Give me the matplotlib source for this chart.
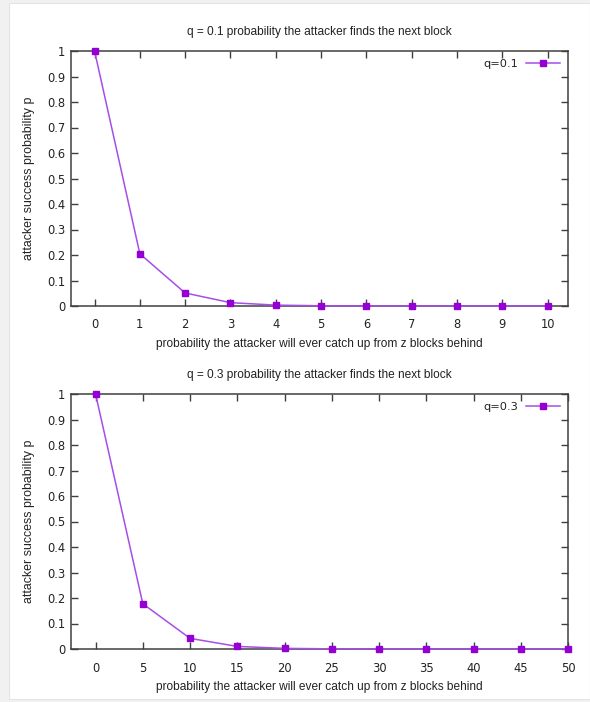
import matplotlib
matplotlib.use("Agg")
import matplotlib.pyplot as plt
from matplotlib.patches import Rectangle

# Data (attacker success probability, Bitcoin whitepaper)
z_q01 = [0, 1, 2, 3, 4, 5, 6, 7, 8, 9, 10]
p_q01 = [1.0, 0.2045873, 0.0509779, 0.0131722, 0.0034552, 0.0009137,
         0.0002428, 0.0000647, 0.0000173, 0.0000046, 0.0000012]
z_q03 = [0, 5, 10, 15, 20, 25, 30, 35, 40, 45, 50]
p_q03 = [1.0, 0.1773523, 0.0416605, 0.0101008, 0.0024804, 0.0006132,
         0.0001522, 0.0000379, 0.0000095, 0.0000024, 0.0000006]

titles = ["q = 0.1 probability the attacker finds the next block",
          "q = 0.3 probability the attacker finds the next block"]
labels = ["q=0.1", "q=0.3"]
xlabel = "probability the attacker will ever catch up from z blocks behind"
ylabel = "attacker success probability p"
yticks = [0, 0.1, 0.2, 0.3, 0.4, 0.5, 0.6, 0.7, 0.8, 0.9, 1]
ytick_labels = ["0", "0.1", "0.2", "0.3", "0.4", "0.5", "0.6", "0.7", "0.8", "0.9", "1"]
xticks_top = list(range(0, 11))
xticks_bot = list(range(0, 51, 5))

W, H = 590, 702
fig = plt.figure(figsize=(W / 100, H / 100), dpi=100)
fig.patch.set_facecolor("#f1f1f1")
bg = Rectangle((9 / W, 3 / H), (W - 9) / W, (699 - 3) / H,
               transform=fig.transFigure, facecolor="white",
               edgecolor="#e4e4e4", linewidth=0.8, zorder=-10)
fig.add_artist(bg)

LINE_C = "#a64ee8"
MARK_C = "#9400d3"
AX_C = "#404040"
TXT_C = "#222222"
FONT = ["DejaVu Sans"]
FONT2 = ["Liberation Sans", "DejaVu Sans"]


def make_axes(top_px, bottom_px):
    left, right = 71, 568
    return fig.add_axes([left / W, (H - bottom_px) / H, (right - left) / W,
                         (bottom_px - top_px) / H])


specs = [
    (51, 306, z_q01, p_q01, (-0.52, 10.45), xticks_top, titles[0], labels[0]),
    (394, 649, z_q03, p_q03, (-2.6, 50.0), xticks_bot, titles[1], labels[1]),
]

for top_px, bot_px, xs, ys, xlim, xt, title, lab in specs:
    ax = make_axes(top_px, bot_px)
    ax.set_zorder(1)
    ax.plot(xs, ys, color=LINE_C, linewidth=1.1, marker="s", markersize=5,
            markerfacecolor=MARK_C, markeredgecolor=MARK_C, label=lab,
            clip_on=False, zorder=3)
    ax.set_xlim(*xlim)
    ax.set_ylim(0, 1)
    ax.set_xticks(xt)
    ax.set_xticklabels([str(v) for v in xt], fontsize=8.3, color=TXT_C, family=FONT)
    ax.set_yticks(yticks)
    ax.set_yticklabels(ytick_labels, fontsize=8.3, color=TXT_C, family=FONT)
    ax.tick_params(direction="in", length=5, width=1, color=AX_C,
                   top=True, right=True, pad=9)
    ax.tick_params(axis="y", pad=4)
    for s in ax.spines.values():
        s.set_color(AX_C)
        s.set_linewidth(1.1)
    ax.set_title(title, fontsize=8.6, color=TXT_C, family=FONT2, pad=11.5)
    ax.set_xlabel(xlabel, fontsize=8.6, color=TXT_C, family=FONT2, labelpad=4.5)
    ax.set_ylabel(ylabel, fontsize=8.9, color=TXT_C, family=FONT2)
    ax.yaxis.set_label_coords(-0.072, 0.5)
    leg = ax.legend(loc="upper right", frameon=False, markerfirst=False,
                    handlelength=3.0, handletextpad=0.7, borderaxespad=0.3,
                    prop={"family": FONT, "size": 8.2})
    for t in leg.get_texts():
        t.set_color(TXT_C)

fig.savefig("out.png", dpi=100, facecolor=fig.get_facecolor())
